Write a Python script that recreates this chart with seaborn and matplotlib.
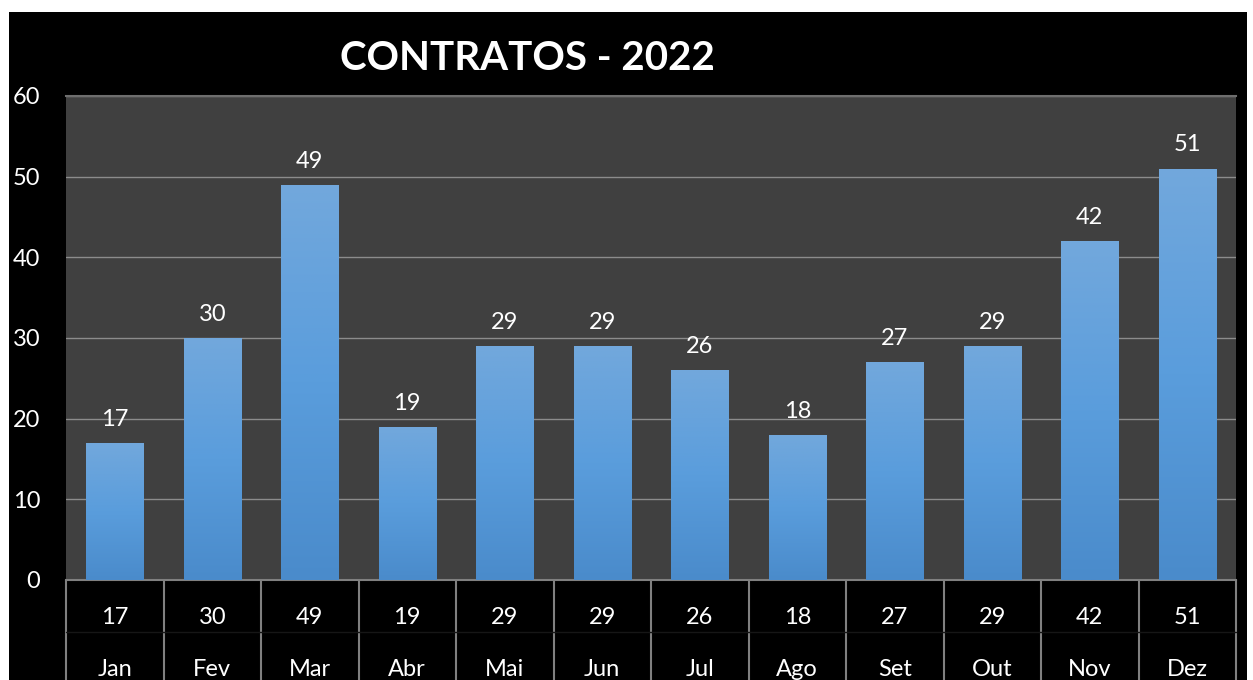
import matplotlib
matplotlib.use("Agg")
import matplotlib.pyplot as plt
import matplotlib.transforms as mtransforms
import numpy as np
import pandas as pd
import seaborn as sns
from matplotlib.colors import LinearSegmentedColormap
from matplotlib.patches import Rectangle

# ---------------------------------------------------------------------------
# Data
# ---------------------------------------------------------------------------
MONTHS = ["Jan", "Fev", "Mar", "Abr", "Mai", "Jun",
          "Jul", "Ago", "Set", "Out", "Nov", "Dez"]
CONTRATOS = [17, 30, 49, 19, 29, 29, 26, 18, 27, 29, 42, 51]
Y_TICKS = [0, 10, 20, 30, 40, 50, 60]
TITLE = "CONTRATOS - 2022"

df = pd.DataFrame({"Mes": MONTHS, "Contratos": CONTRATOS})

# ---------------------------------------------------------------------------
# Style
# ---------------------------------------------------------------------------
sns.set_theme(style="dark")
plt.rcParams["font.family"] = ["Lato", "DejaVu Sans"]

W, H = 1253, 680
fig = plt.figure(figsize=(W / 100, H / 100), dpi=100, facecolor="white")

# black chart area (white strip on top / left / right like the screenshot)
fig.patches.append(Rectangle((9 / W, 0), 1238 / W, (H - 12) / H,
                             transform=fig.transFigure, facecolor="black",
                             edgecolor="none", zorder=-10))

ax = fig.add_axes([66 / W, (H - 580) / H, 1170 / W, 484 / H])
ax.set_facecolor("#404040")

sns.barplot(data=df, x="Mes", y="Contratos", order=MONTHS, color="#5b9bd5",
            width=0.585, saturation=1, linewidth=0, edgecolor="none",
            ax=ax, zorder=2)

# vertical gradient on every bar, clipped to the bar itself
grad_cmap = LinearSegmentedColormap.from_list("bar", ["#4a8bcb", "#5a9ddc", "#72a8dc"])
grad = np.linspace(0, 1, 256).reshape(-1, 1)
for p in ax.patches:
    x0, y0 = p.get_x(), p.get_y()
    w, h = p.get_width(), p.get_height()
    im = ax.imshow(grad, cmap=grad_cmap, origin="lower", aspect="auto",
                   extent=[x0, x0 + w, y0, y0 + h], zorder=3)
    im.set_clip_path(p)
    ax.annotate(f"{h:.0f}", (x0 + w / 2, h), xytext=(0, 17),
                textcoords="offset points", ha="center", va="center",
                color="white", fontsize=17, zorder=4)

ax.set_xlim(-0.5, len(MONTHS) - 0.5)
ax.set_ylim(0, 60)
ax.set_yticks(Y_TICKS)
ax.yaxis.grid(True, color="#8c8c8c", linewidth=1, zorder=1)
ax.xaxis.grid(False)
ax.set_axisbelow(True)
ax.tick_params(axis="y", length=0, pad=18.5, labelsize=17, labelcolor="white")
ax.set_xticks([])
ax.set_xlabel("")
ax.set_ylabel("")
for side in ["left", "right"]:
    ax.spines[side].set_visible(False)
ax.spines["top"].set_color("#6e6e6e")
ax.spines["top"].set_linewidth(1.5)
ax.spines["bottom"].set_color("#808080")
ax.spines["bottom"].set_linewidth(1.5)

# data table below the plot area
trans = mtransforms.blended_transform_factory(ax.transData, ax.transAxes)
row_val = -37 / 484
row_mon = -89 / 484
bottom = -110 / 484
for i, (m, v) in enumerate(zip(MONTHS, CONTRATOS)):
    ax.text(i, row_val, f"{v}", transform=trans, ha="center", va="center",
            color="white", fontsize=17, clip_on=False)
    ax.text(i, row_mon, m, transform=trans, ha="center", va="center",
            color="white", fontsize=17, clip_on=False)
for i in range(len(MONTHS) + 1):
    ax.plot([i - 0.5, i - 0.5], [0, bottom], transform=trans, color="#808080",
            linewidth=1.5, clip_on=False)
ax.plot([-0.5, len(MONTHS) - 0.5], [-52 / 484, -52 / 484], transform=trans,
        color="#161616", linewidth=1, clip_on=False)

fig.text(527 / W, (H - 58) / H, TITLE, ha="center", va="center",
         color="white", fontsize=29, fontweight="bold")

fig.savefig("out.png", dpi=100, facecolor="white")
